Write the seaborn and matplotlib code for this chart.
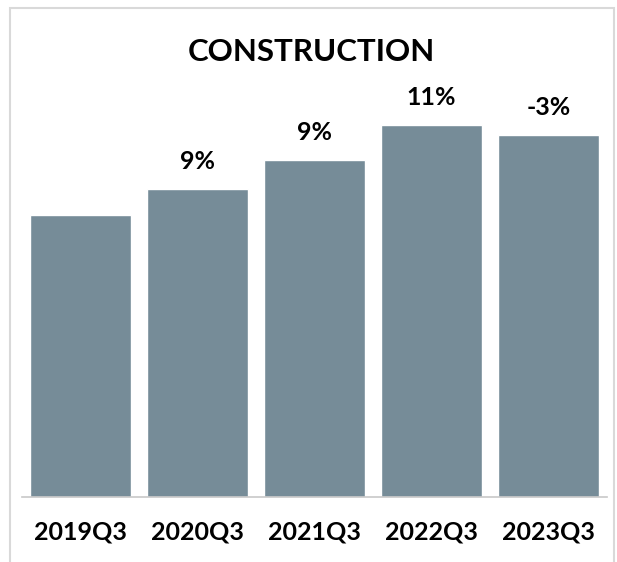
import matplotlib
matplotlib.use("Agg")
import matplotlib.pyplot as plt
import seaborn as sns
import pandas as pd
from matplotlib.patches import Rectangle

# Data (relative bar heights)
quarters = ["2019Q3", "2020Q3", "2021Q3", "2022Q3", "2023Q3"]
values = [282, 308, 337, 372, 362]
growth_labels = ["", "9%", "9%", "11%", "-3%"]

df = pd.DataFrame({"quarter": quarters, "value": values})

sns.set_theme(style="white")
plt.rcParams["font.family"] = ["Lato", "DejaVu Sans"]

fig = plt.figure(figsize=(6.17, 5.62), dpi=100)
ax = fig.add_axes([22 / 617, 1 - 497 / 562, 585 / 617, 400 / 562])

sns.barplot(data=df, x="quarter", y="value", color="#768C98", saturation=1,
            width=0.87, ax=ax)

ax.set_ylim(0, 400)
ax.set_xlim(-0.5, len(quarters) - 0.5)
ax.set_yticks([])
ax.set_xlabel("")
ax.set_ylabel("")
for s in ["top", "right", "left"]:
    ax.spines[s].set_visible(False)
ax.spines["bottom"].set_color("#C8C8C8")
ax.spines["bottom"].set_linewidth(1.2)
ax.tick_params(axis="x", length=0, pad=17)
for lbl in ax.get_xticklabels():
    lbl.set_fontsize(18)
    lbl.set_fontweight("bold")
    lbl.set_color("black")

# growth labels above the bars
for i, (v, txt) in enumerate(zip(values, growth_labels)):
    if txt:
        ax.annotate(txt, (i, v), xytext=(0, 20), textcoords="offset points",
                    ha="center", va="center", fontsize=18, fontweight="bold",
                    color="black")

fig.text(0.505, 1 - 52 / 562, "CONSTRUCTION", ha="center", va="center",
         fontsize=22.5, fontweight="bold", color="black")

# light border around the chart area
fig.patches.append(Rectangle((10 / 617, -0.05), 604 / 617, 1.05 - 8 / 562,
                             transform=fig.transFigure, fill=False,
                             edgecolor="#D9D9D9", linewidth=1.5))

fig.savefig("out.png", dpi=100)
